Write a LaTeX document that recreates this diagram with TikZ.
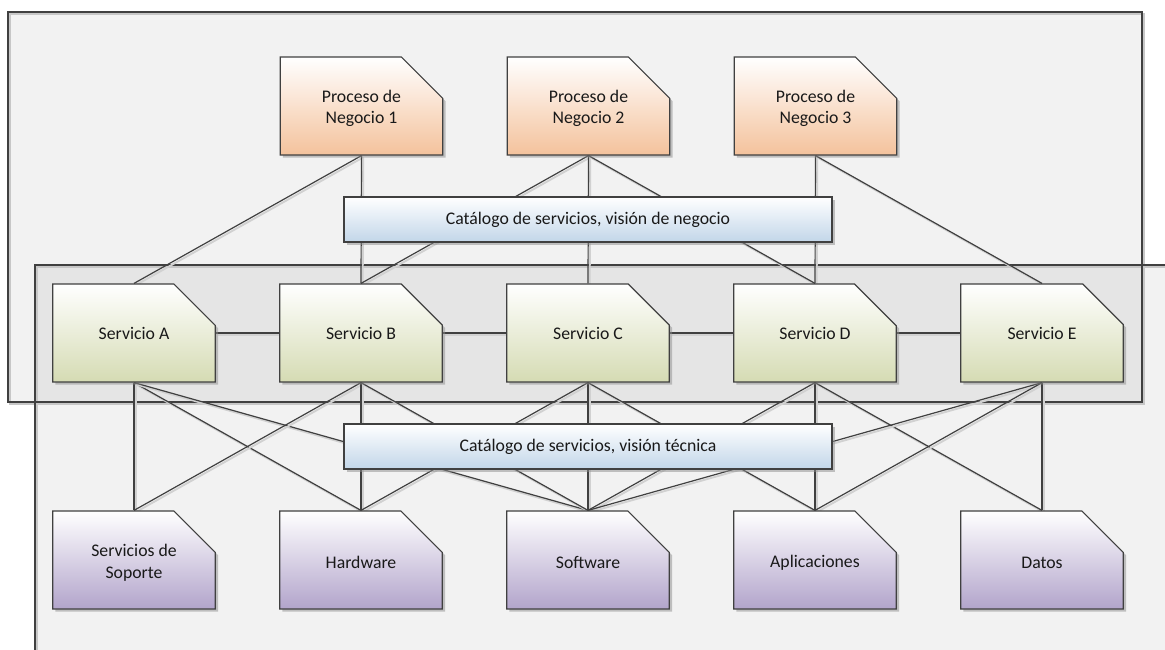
\documentclass[tikz,border=0pt]{standalone}
\usepackage{fontspec}
\setmainfont{Carlito}
\usetikzlibrary{shapes.misc,shadows}
\definecolor{orangeclair}{HTML}{F4C29C}
\definecolor{vertclair}{HTML}{D5DBB3}
\definecolor{mauveclair}{HTML}{B2A4CB}
\definecolor{bleuclair}{HTML}{C2D6E9}
\definecolor{trait}{HTML}{404040}
\pgfdeclarelayer{cadres}
\pgfdeclarelayer{liens}
\pgfsetlayers{cadres,liens,main}
\begin{document}
\begin{tikzpicture}[x=.75pt,y=-.75pt,
	ombre/.style={drop shadow={shadow xshift=2pt,shadow yshift=-2pt,fill=black!45,opacity=.5}},
	texte/.style={align=center, font=\fontsize{13.3}{16.3}\selectfont, text=black!90},
	etiquette/.style={texte, yshift=-1.8pt},
	boite/.style={chamfered rectangle, chamfered rectangle corners=north east,
		chamfered rectangle xsep=30pt, chamfered rectangle ysep=30pt,
		minimum width=122pt, minimum height=73.5pt, inner sep=0pt,
		draw=trait, line width=.9pt, ombre, top color=white, texte},
	processus/.style={boite, bottom color=orangeclair},
	service/.style={boite, bottom color=vertclair},
	ressource/.style={boite, bottom color=mauveclair},
	catalogue/.style={rectangle, minimum width=366pt, minimum height=33.75pt, texte,
		draw=trait, line width=.9pt, ombre, top color=white, bottom color=bleuclair},
	lien/.style={draw=trait, line width=.9pt,
		preaction={draw=black!18, line width=1.4pt, transform canvas={shift={(1.3pt,-1.3pt)}}}}]
	%\draw[help lines] (0,0) grid[step=50] (1165,650);
	\clip (0,0) rectangle (1165,650);
	% cadres
	\begin{pgfonlayer}{cadres}
		\fill[white] (0,0) rectangle (1165,650);
		\fill[black!5] (8,12) rectangle (1142,402);
		\fill[black!5] (35,265) rectangle (1180,665);
		\fill[black!10] (35,265) rectangle (1142,402);
		\draw[black!22, line width=1.3pt] (10,14) rectangle (1144,404) (37,267) rectangle (1182,667);
		\draw[trait, line width=.9pt] (8,12) rectangle (1142,402) (35,265) rectangle (1180,665);
	\end{pgfonlayer}
	% boites (texte en etiquette, pour garder le coin coupe)
	\foreach \i/\txt in {1/{Proceso de\\Negocio 1}, 2/{Proceso de\\Negocio 2}, 3/{Proceso de\\Negocio 3}}
		\node[processus, label={[etiquette]center:\txt}] (proc\i) at ({361.5+227*(\i-1)},106) {\phantom{Servicio A}};
	\foreach \i/\txt in {1/Servicio A, 2/Servicio B, 3/Servicio C, 4/Servicio D, 5/Servicio E}
		\node[service] (serv\i) at ({134+227*(\i-1)},333) {\txt};
	\foreach \i/\txt in {1/{Servicios de\\Soporte}, 2/Hardware, 3/Software, 4/Aplicaciones, 5/Datos}
		\node[ressource, label={[etiquette]center:\txt}] (res\i) at ({134+227*(\i-1)},560) {\phantom{Servicio A}};
	\node[catalogue] (catneg) at (588,219.5) {Catálogo de servicios, visión de negocio};
	\node[catalogue] (cattec) at (588,446.5) {Catálogo de servicios, visión técnica};
	% liens
	\begin{pgfonlayer}{liens}
		\foreach \a/\b in {proc1/serv1, proc1/serv2, proc2/serv2, proc2/serv3, proc2/serv4,
				proc3/serv4, proc3/serv5,
				serv1/res1, serv1/res2, serv1/res3, serv2/res1, serv2/res2, serv2/res3,
				serv3/res2, serv3/res3, serv3/res4, serv4/res3, serv4/res4, serv4/res5,
				serv5/res3, serv5/res4, serv5/res5}
			\draw[lien] (\a.south) -- (\b.north);
		\foreach \a/\b in {serv1/serv2, serv2/serv3, serv3/serv4, serv4/serv5}
			\draw[lien] (\a.east) -- (\b.west);
	\end{pgfonlayer}
\end{tikzpicture}
\end{document}
